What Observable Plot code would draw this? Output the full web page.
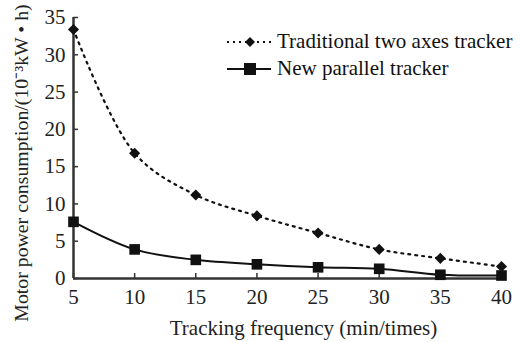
<!DOCTYPE html>
<html><head><meta charset="utf-8">
<script src="https://cdn.jsdelivr.net/npm/d3@7"></script>
<script src="https://cdn.jsdelivr.net/npm/@observablehq/plot@0.6"></script>
<style>
body{margin:0;background:#fff;}
#wrap{position:relative;width:521px;height:342px;font-family:"Liberation Serif","Times New Roman",serif;}
.leg{position:absolute;left:226px;font-size:21px;color:#111;display:flex;align-items:center;white-space:nowrap;}
.leg svg{margin-right:5px;}
</style></head>
<body><div id="wrap"></div>
<script>
const frequency = [5, 10, 15, 20, 25, 30, 35, 40];
const traditional = [33.4, 16.8, 11.2, 8.4, 6.1, 3.9, 2.7, 1.6];
const parallel = [7.6, 3.9, 2.5, 1.9, 1.5, 1.3, 0.5, 0.4];
const xTicks = [5, 10, 15, 20, 25, 30, 35, 40];
const yTicks = [0, 5, 10, 15, 20, 25, 30, 35];
const seriesNames = ["Traditional two axes tracker", "New parallel tracker"];
const xLabel = "Tracking frequency (min/times)";
const yLabel = "Motor power consumption/(10⁻³kW • h)";

const tradData = frequency.map((f, i) => ({f, v: traditional[i]}));
const parData = frequency.map((f, i) => ({f, v: parallel[i]}));
const ink = "#111";
const axisInk = "#333";

const chart = Plot.plot({
  width: 521, height: 342,
  marginLeft: 73, marginRight: 20, marginTop: 17, marginBottom: 64,
  style: {fontFamily: "'Liberation Serif', 'Times New Roman', serif", fontSize: "21px", color: ink, background: "#fff"},
  x: {domain: [5, 40]},
  y: {domain: [0, 35]},
  marks: [
    Plot.axisX({ticks: xTicks, tickSize: 5, dy: -5, text: null, label: null, stroke: axisInk, strokeWidth: 1.5}),
    Plot.axisX({ticks: xTicks, tickSize: 0, tickPadding: 11, fontSize: 21, fill: "#222", label: null}),
    Plot.text([xLabel], {frameAnchor: "bottom", textAnchor: "middle", lineAnchor: "middle", dx: 16, dy: 50,
      fontSize: 21, fill: "#222", text: d => d}),
    Plot.axisY({ticks: yTicks, tickSize: 5, dx: 5, text: null, label: null, stroke: axisInk, strokeWidth: 1.5}),
    Plot.axisY({ticks: yTicks, tickSize: 0, tickPadding: 8, fontSize: 21, fill: "#222", label: null}),
    Plot.text([yLabel], {frameAnchor: "left", textAnchor: "middle", rotate: -90, dx: -52, dy: 15,
      fontSize: 19.8, fill: "#222", text: d => d}),
    Plot.ruleY([0], {stroke: axisInk, strokeWidth: 2.5}),
    Plot.ruleX([5], {stroke: axisInk, strokeWidth: 2.5}),
    Plot.line(tradData, {x: "f", y: "v", curve: "catmull-rom", stroke: ink, strokeWidth: 2.2, strokeDasharray: "2,5"}),
    Plot.dot(tradData, {x: "f", y: "v", symbol: "diamond2", r: 5, fill: ink, stroke: "none"}),
    Plot.line(parData, {x: "f", y: "v", curve: "catmull-rom", stroke: ink, strokeWidth: 2}),
    Plot.dot(parData, {x: "f", y: "v", symbol: "square", r: 6, fill: ink, stroke: "none"})
  ]
});
const wrap = document.getElementById("wrap");
wrap.appendChild(chart);

function legendItem(top, dashed, symbol, name) {
  const d = document.createElement("div");
  d.className = "leg";
  d.style.top = top + "px";
  const shape = symbol === "diamond"
    ? '<path d="M24,3 L29,8 L24,13 L19,8 Z" fill="#111"/>'
    : '<rect x="18" y="2" width="12" height="12" fill="#111"/>';
  d.innerHTML = `<svg width="46" height="16"><line x1="1" y1="8" x2="45" y2="8" stroke="#111" stroke-width="2" ${dashed ? 'stroke-dasharray="2,4"' : ''}/>${shape}</svg><span>${name}</span>`;
  wrap.appendChild(d);
}
legendItem(29, true, "diamond", seriesNames[0]);
legendItem(56, false, "square", seriesNames[1]);
</script></body></html>
